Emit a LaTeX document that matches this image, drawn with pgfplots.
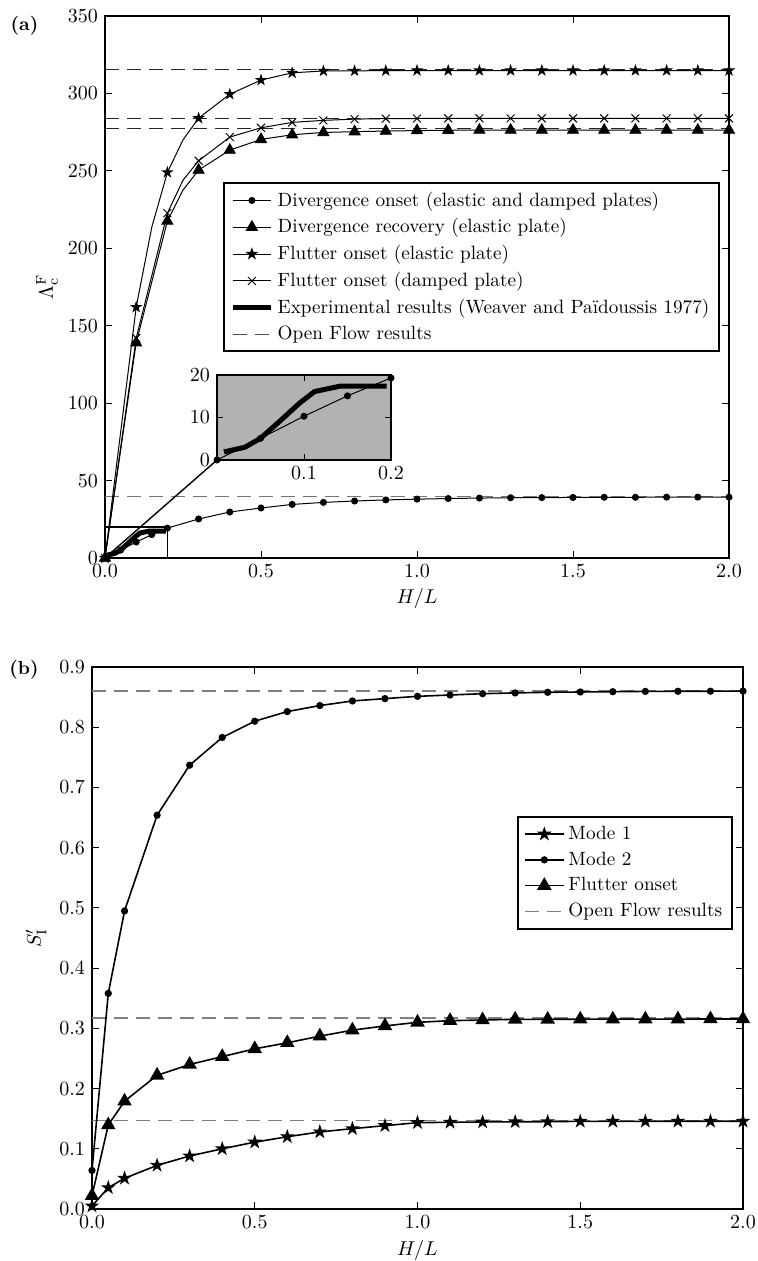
\documentclass[border=0pt]{standalone}
\usepackage{pgfplots}
\pgfplotsset{compat=1.18}

% filled five-pointed star (matplotlib '*')
\pgfdeclareplotmark{fstar}{%
  \pgfpathmoveto{\pgfpointpolar{90}{\pgfplotmarksize}}%
  \pgfpathlineto{\pgfpointpolar{126}{0.382\pgfplotmarksize}}%
  \pgfpathlineto{\pgfpointpolar{162}{\pgfplotmarksize}}%
  \pgfpathlineto{\pgfpointpolar{198}{0.382\pgfplotmarksize}}%
  \pgfpathlineto{\pgfpointpolar{234}{\pgfplotmarksize}}%
  \pgfpathlineto{\pgfpointpolar{270}{0.382\pgfplotmarksize}}%
  \pgfpathlineto{\pgfpointpolar{306}{\pgfplotmarksize}}%
  \pgfpathlineto{\pgfpointpolar{342}{0.382\pgfplotmarksize}}%
  \pgfpathlineto{\pgfpointpolar{18}{\pgfplotmarksize}}%
  \pgfpathlineto{\pgfpointpolar{54}{0.382\pgfplotmarksize}}%
  \pgfpathclose
  \pgfusepathqfillstroke
}

\pgfplotsset{
  panel/.style={
    scale only axis,
    axis line style={line width=0.9pt},
    every tick/.append style={black, line width=0.5pt},
    major tick length=3.5pt,
    tick align=inside,
    xticklabel style={/pgf/number format/fixed, /pgf/number format/fixed zerofill, /pgf/number format/precision=1},
    legend cell align=left,
    legend style={draw=black, line width=0.9pt, fill=white,
      font=\fontsize{9.6}{11}\selectfont, inner xsep=3pt, inner ysep=2.5pt, row sep=0.7pt},
    legend image code/.code={\draw[mark repeat=2,mark phase=2,##1]
        plot coordinates {(0cm,0cm) (0.34cm,0cm) (0.68cm,0cm)};},
  },
}
\tikzset{
  opendash/.style={dash pattern=on 7pt off 4pt},
}

\begin{document}
\begin{tikzpicture}
\path[use as bounding box] (0pt,0pt) rectangle (379pt,-630.5pt);

% ---------------- panel (a) ----------------
\begin{axis}[panel, name=main,
  at={(52.5pt,-8pt)}, anchor=north west, width=312pt, height=271pt,
  xmin=0, xmax=2, ymin=0, ymax=350,
  xtick={0,0.5,1,1.5,2}, ytick={0,50,100,150,200,250,300,350},
  xlabel={$H/L$}, ylabel={$\Lambda_{\mathrm{c}}^{\mathrm{F}}$},
  x label style={at={(axis description cs:0.5,-0.075)}, anchor=center},
  y label style={at={(axis description cs:-0.093,0.5)}, anchor=center},
  legend style={at={(0.986,0.694)}, anchor=north east},
]
\addlegendimage{black, line width=0.5pt, mark=*, mark size=1.5pt}
\addlegendentry{Divergence onset (elastic and damped plates)}
\addlegendimage{black, line width=0.5pt, mark=triangle*, mark size=3.2pt}
\addlegendentry{Divergence recovery (elastic plate)}
\addlegendimage{black, line width=0.5pt, mark=fstar, mark size=2.6pt}
\addlegendentry{Flutter onset (elastic plate)}
\addlegendimage{black, line width=0.5pt, mark=x, mark size=2.8pt}
\addlegendentry{Flutter onset (damped plate)}
\addlegendimage{black, line width=2.5pt}
\addlegendentry{Experimental results (Weaver and Païdoussis 1977)}
\addlegendimage{black!70, line width=0.5pt, opendash}
\addlegendentry{Open Flow results}

% open flow limits
\addplot[forget plot, black!85, line width=0.6pt, opendash] coordinates {(0,315.7) (2,315.7)};
\addplot[forget plot, black!85, line width=0.6pt, opendash] coordinates {(0,283.9) (2,283.9)};
\addplot[forget plot, black!85, line width=0.6pt, opendash] coordinates {(0,277.2) (2,277.2)};
\addplot[forget plot, black!55, line width=0.6pt, opendash] coordinates {(0,39.6) (2,39.6)};

% divergence onset
\addplot[forget plot, black, line width=0.5pt, mark=*, mark size=1.5pt] coordinates {
  (0,0) (0.05,5.1) (0.1,10.3) (0.15,15.1) (0.2,19.3) (0.3,25.2) (0.4,29.7)
  (0.5,32.3) (0.6,34.6) (0.7,35.9) (0.8,36.8) (0.9,37.5) (1.0,38.0) (1.1,38.4)
  (1.2,38.7) (1.3,38.9) (1.4,39.0) (1.5,39.1) (1.6,39.2) (1.7,39.2) (1.8,39.3)
  (1.9,39.3) (2.0,39.3)};

% divergence recovery (elastic)
\addplot[forget plot, black, line width=0.5pt] coordinates {
  (0,0) (0.1,139) (0.2,217.6) (0.25,237.6) (0.3,250.5) (0.4,263.4) (0.5,270.3)
  (0.6,273.3) (0.7,274.8) (0.8,275.3) (0.9,275.7) (1.0,276.0) (1.1,276.2)
  (1.2,276.3) (1.3,276.3) (1.4,276.3) (1.5,276.3) (1.6,276.3) (1.7,276.3)
  (1.8,276.3) (1.9,276.3) (2.0,276.3)};
\addplot[forget plot, only marks, black, mark=triangle*, mark size=3.2pt] coordinates {
  (0,0) (0.1,139) (0.2,217.6) (0.3,250.5) (0.4,263.4) (0.5,270.3)
  (0.6,273.3) (0.7,274.8) (0.8,275.3) (0.9,275.7) (1.0,276.0) (1.1,276.2)
  (1.2,276.3) (1.3,276.3) (1.4,276.3) (1.5,276.3) (1.6,276.3) (1.7,276.3)
  (1.8,276.3) (1.9,276.3) (2.0,276.3)};

% flutter onset (elastic)
\addplot[forget plot, black, line width=0.5pt] coordinates {
  (0,0) (0.1,162) (0.15,213.7) (0.2,249) (0.25,270) (0.3,284) (0.4,299.5)
  (0.5,308.6) (0.6,313.3) (0.7,314.5) (0.8,314.6) (0.9,314.7) (1.0,314.8)
  (1.1,314.8) (1.2,314.8) (1.3,314.8) (1.4,314.8) (1.5,314.8) (1.6,314.8)
  (1.7,314.8) (1.8,314.8) (1.9,314.8) (2.0,314.8)};
\addplot[forget plot, only marks, black, mark=fstar, mark size=2.6pt] coordinates {
  (0,0) (0.1,162) (0.2,249) (0.3,284) (0.4,299.5)
  (0.5,308.6) (0.6,313.3) (0.7,314.5) (0.8,314.6) (0.9,314.7) (1.0,314.8)
  (1.1,314.8) (1.2,314.8) (1.3,314.8) (1.4,314.8) (1.5,314.8) (1.6,314.8)
  (1.7,314.8) (1.8,314.8) (1.9,314.8) (2.0,314.8)};

% flutter onset (damped)
\addplot[forget plot, black, line width=0.5pt] coordinates {
  (0,0) (0.1,142) (0.2,222.7) (0.25,244) (0.3,256.5) (0.4,271.8) (0.5,277.8)
  (0.6,281.3) (0.7,282.6) (0.8,283.4) (0.9,283.7) (1.0,283.8) (1.1,283.9)
  (1.2,283.9) (1.3,283.9) (1.4,283.9) (1.5,283.9) (1.6,283.9) (1.7,283.9)
  (1.8,283.9) (1.9,283.9) (2.0,283.9)};
\addplot[forget plot, only marks, black, mark=x, mark size=2.8pt, mark options={line width=0.5pt}] coordinates {
  (0,0) (0.1,142) (0.2,222.7) (0.3,256.5) (0.4,271.8) (0.5,277.8)
  (0.6,281.3) (0.7,282.6) (0.8,283.4) (0.9,283.7) (1.0,283.8) (1.1,283.9)
  (1.2,283.9) (1.3,283.9) (1.4,283.9) (1.5,283.9) (1.6,283.9) (1.7,283.9)
  (1.8,283.9) (1.9,283.9) (2.0,283.9)};

% experiment
\addplot[forget plot, black, line width=2.5pt, line join=round] coordinates {
  (0.008,1.9) (0.032,3.0) (0.05,5.1) (0.072,9.1) (0.095,13.4) (0.112,16.1)
  (0.142,17.4) (0.195,17.4)};

% zoom box
\draw[line width=0.7pt] (axis cs:0,0) rectangle (axis cs:0.2,20);
\coordinate (zo) at (axis cs:0,0);
\end{axis}

% inset
\begin{axis}[name=inset,
  at={(108.5pt,-230pt)}, anchor=south west,
  scale only axis, width=87pt, height=42.5pt,
  xmin=0, xmax=0.2, ymin=0, ymax=20,
  xtick={0.1,0.2}, ytick={0,10,20},
  axis line style={line width=0.9pt},
  every tick/.append style={black, line width=0.5pt},
  major tick length=3pt,
  xticklabel style={/pgf/number format/fixed, /pgf/number format/precision=1},
  axis background/.style={fill=black!30},
]
\addplot[black, line width=0.5pt, mark=*, mark size=1.5pt] coordinates {
  (0,0) (0.05,5.1) (0.1,10.3) (0.15,15.1) (0.2,19.3)};
\addplot[black, line width=2.5pt, line join=round] coordinates {
  (0.008,1.9) (0.032,3.0) (0.05,5.1) (0.072,9.1) (0.095,13.4) (0.112,16.1)
  (0.142,17.4) (0.195,17.4)};
\end{axis}
\draw[line width=0.7pt] (zo) -- (inset.south west);

% ---------------- panel (b) ----------------
\begin{axis}[panel,
  at={(46pt,-333.5pt)}, anchor=north west, width=325.5pt, height=271pt,
  xmin=0, xmax=2, ymin=0, ymax=0.9,
  xtick={0,0.5,1,1.5,2}, ytick={0,0.1,0.2,0.3,0.4,0.5,0.6,0.7,0.8,0.9},
  yticklabel style={/pgf/number format/fixed, /pgf/number format/fixed zerofill, /pgf/number format/precision=1},
  xlabel={$H/L$}, ylabel={$S'_{\mathrm{I}}$},
  x label style={at={(axis description cs:0.5,-0.0757)}, anchor=center},
  y label style={at={(axis description cs:-0.086,0.5)}, anchor=center},
  legend style={at={(0.9846,0.725)}, anchor=north east},
]
\addlegendimage{black, line width=0.8pt, mark=fstar, mark size=2.6pt}
\addlegendentry{Mode 1}
\addlegendimage{black, line width=0.8pt, mark=*, mark size=1.4pt}
\addlegendentry{Mode 2}
\addlegendimage{black, line width=0.8pt, mark=triangle*, mark size=3.4pt}
\addlegendentry{Flutter onset}
\addlegendimage{black!50, line width=0.8pt, opendash}
\addlegendentry{Open Flow results}

\addplot[forget plot, black!50, line width=0.8pt, opendash] coordinates {(0,0.86) (2,0.86)};
\addplot[forget plot, black!50, line width=0.8pt, opendash] coordinates {(0,0.317) (2,0.317)};
\addplot[forget plot, black!50, line width=0.8pt, opendash] coordinates {(0,0.147) (2,0.147)};

% mode 1
\addplot[forget plot, black, line width=0.8pt, mark=fstar, mark size=2.6pt] coordinates {
  (0,0.005) (0.05,0.0354) (0.1,0.051) (0.2,0.0725) (0.3,0.088) (0.4,0.100)
  (0.5,0.111) (0.6,0.120) (0.7,0.128) (0.8,0.1334) (0.9,0.1384) (1.0,0.1434)
  (1.1,0.144) (1.2,0.1445) (1.3,0.1448) (1.4,0.145) (1.5,0.1456) (1.6,0.1456)
  (1.7,0.1456) (1.8,0.1457) (1.9,0.1457) (2.0,0.1457)};
% mode 2
\addplot[forget plot, black, line width=0.8pt, mark=*, mark size=1.4pt] coordinates {
  (0,0.064) (0.05,0.358) (0.1,0.495) (0.2,0.654) (0.3,0.737) (0.4,0.783)
  (0.5,0.810) (0.6,0.826) (0.7,0.836) (0.8,0.8436) (0.9,0.8475) (1.0,0.8513)
  (1.1,0.8535) (1.2,0.8557) (1.3,0.857) (1.4,0.858) (1.5,0.8585) (1.6,0.859)
  (1.7,0.8595) (1.8,0.8597) (1.9,0.8598) (2.0,0.86)};
% flutter onset
\addplot[forget plot, black, line width=0.8pt, mark=triangle*, mark size=3.4pt] coordinates {
  (0,0.022) (0.05,0.1395) (0.1,0.179) (0.2,0.222) (0.3,0.240) (0.4,0.253)
  (0.5,0.266) (0.6,0.276) (0.7,0.287) (0.8,0.297) (0.9,0.304) (1.0,0.310)
  (1.1,0.3127) (1.2,0.3138) (1.3,0.315) (1.4,0.315) (1.5,0.3152) (1.6,0.3152)
  (1.7,0.3153) (1.8,0.3153) (1.9,0.3155) (2.0,0.3155)};
\end{axis}

\node[font=\fontsize{9.5}{11}\selectfont\bfseries] at (12.25pt,-12.75pt) {(a)};
\node[font=\fontsize{9.5}{11}\selectfont\bfseries] at (12pt,-335pt) {(b)};
\end{tikzpicture}
\end{document}
